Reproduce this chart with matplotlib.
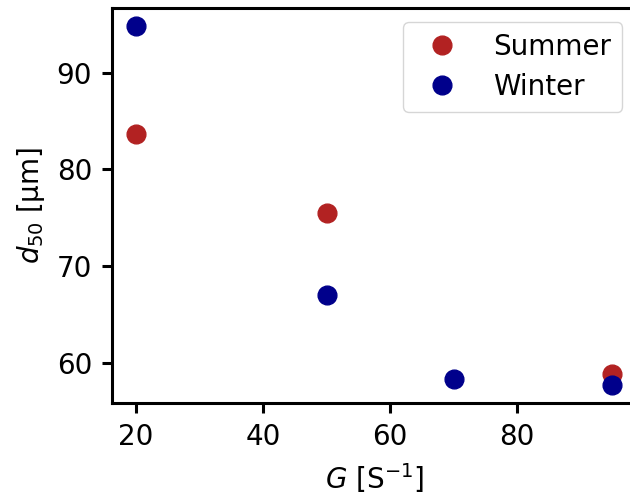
import matplotlib
matplotlib.use("Agg")
import matplotlib.pyplot as plt

summer_G = [20, 50, 95]
summer_d50 = [83.7, 75.5, 58.8]
winter_G = [20, 50, 70, 95]
winter_d50 = [94.8, 67.0, 58.3, 57.7]

plt.rcParams['font.family'] = ['DejaVu Sans']
plt.rcParams['font.size'] = 20

fig = plt.figure(figsize=(6.3, 4.96), dpi=100)
ax = fig.add_axes([0.178, 0.1875, 0.832, 0.796])

ax.plot(summer_G, summer_d50, 'o', color='firebrick', markersize=13.5, label='Summer')
ax.plot(winter_G, winter_d50, 'o', color='darkblue', markersize=13.5, label='Winter')

ax.set_xlabel('$G$ [S$^{-1}$]', labelpad=7)
ax.set_ylabel('$d_{50}$ [µm]', labelpad=7)
ax.set_xticks([20, 40, 60, 80])
ax.set_yticks([60, 70, 80, 90])
ax.tick_params(width=2.2, length=7, pad=7.5)
for s in ax.spines.values():
    s.set_linewidth(2.2)

ax.legend(loc='upper right', handletextpad=0.85, labelspacing=0.42, borderaxespad=0.5)

fig.savefig('out.png', dpi=100)
